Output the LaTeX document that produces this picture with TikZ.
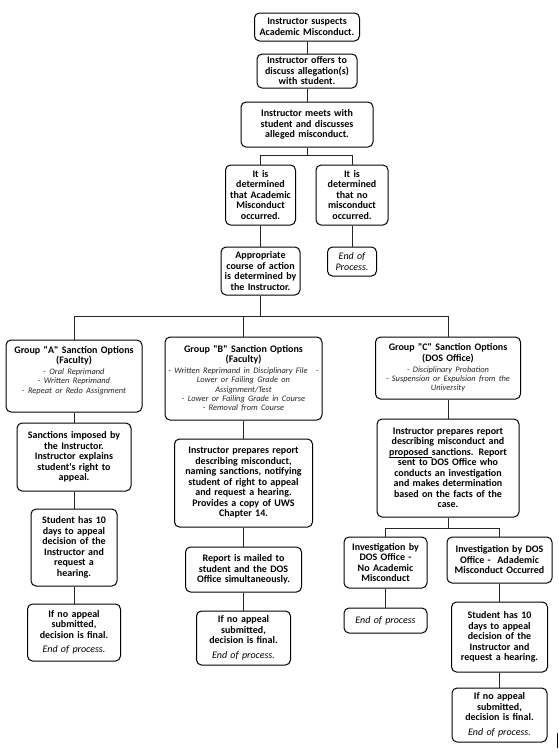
\documentclass[tikz,border=0pt]{standalone}
\usepackage{fontspec}
\setmainfont{Carlito}[Ligatures=TeXOff]
\newcommand{\optlines}[1]{\par\vspace{1.5pt}{\fontsize{8.4}{9.3}\selectfont\mdseries\itshape\color{black!85}#1\par}}
\newcommand{\eop}[1]{{\mdseries\itshape #1}}
\begin{document}
\begin{tikzpicture}[x=1pt,y=-1pt,
  box/.style={draw=black, line width=1pt, rounded corners=5pt, align=center,
    inner ysep=0pt, font=\fontsize{10}{10.5}\selectfont\bfseries, text=black},
  bw/.code={\pgfmathsetmacro\twid{#1+30}\tikzset{minimum width=#1pt, text width=\twid pt, inner xsep=-15pt}},
  conn/.style={draw=black!85, line width=0.8pt},
]
\useasboundingbox[fill=white] (0,0) rectangle (558,756);

% top chain
\node[box, bw=105, minimum height=28] (n1) at (307,27) {Instructor suspects\\Academic Misconduct.};
\node[box, bw=100, minimum height=34] (n2) at (307,71) {Instructor offers to\\discuss allegation(s)\\with student.};
\node[box, bw=132, minimum height=45] (n3) at (307,124.5) {Instructor meets with\\student and discusses\\alleged misconduct.};
\node[box, bw=70, minimum height=60] (n4) at (260.5,195) {It is\\determined\\that Academic\\Misconduct\\occurred.};
\node[box, bw=72, minimum height=60] (n5) at (352,195) {It is\\determined\\that no\\misconduct\\occurred.};
\node[box, bw=79, minimum height=48] (n6) at (260.5,271) {Appropriate\\course of action\\is determined by\\the Instructor.};
\node[box, bw=49, minimum height=29] (n7) at (352,261.5) {\eop{End of}\\\eop{Process.}};

% group boxes
\node[box, bw=136, minimum height=72] (gA) at (74,376) {Group "A" Sanction Options\\(Faculty)\optlines{- Oral Reprimand\\- Written Reprimand\\- Repeat or Redo Assignment}\vspace*{11pt}};
\node[box, bw=157, minimum height=83] (gB) at (243.5,378.5) {Group "B" Sanction Options\\(Faculty)\optlines{- Written Reprimand in Disciplinary File\quad -\\Lower or Failing Grade on\\Assignment/Test\\- Lower or Failing Grade in Course\\- Removal from Course}};
\node[box, bw=145, minimum height=62] (gC) at (448,368) {Group "C" Sanction Options\\(DOS Office)\optlines{- Disciplinary Probation\\- Suspension or Expulsion from the\\University}};

% group A chain
\node[box, bw=114, minimum height=68] (a1) at (74,457) {Sanctions imposed by\\the Instructor.\\Instructor explains\\student's right to\\appeal.};
\node[box, bw=86, minimum height=77] (a2) at (74,547.5) {Student has 10\\days to appeal\\decision of the\\Instructor and\\request a\\hearing.};
\node[box, bw=93, minimum height=57] (a3) at (74,632.5) {If no appeal\\submitted,\\decision is final.\\[4pt]\eop{End of process.}};

% group B chain
\node[box, bw=138, minimum height=88] (b1) at (243.5,483) {Instructor prepares report\\describing misconduct,\\naming sanctions, notifying\\student of right to appeal\\and request a hearing.\\Provides a copy of UWS\\Chapter 14.};
\node[box, bw=116, minimum height=45] (b2) at (243.5,569.5) {Report is mailed to\\student and the DOS\\Office simultaneously.};
\node[box, bw=94, minimum height=54] (b3) at (243.5,638) {If no appeal\\submitted,\\decision is final.\\[4pt]\eop{End of process.}};

% group C chain
\node[box, bw=142, minimum height=98] (c1) at (448,468) {Instructor prepares report\\describing misconduct and\\\underline{\smash{proposed}\ }sanctions. Report\\sent to DOS Office who\\conducts an investigation\\and makes determination\\based on the facts of the\\case.};
\node[box, bw=83, minimum height=51] (c2) at (385.5,562.5) {Investigation by\\DOS Office -\\No Academic\\Misconduct};
\node[box, bw=105, minimum height=46] (c3) at (499.5,560) {Investigation by DOS\\Office -\ \ Adademic\\Misconduct Occurred};
\node[box, bw=83, minimum height=25] (c4) at (385.5,620.5) {\eop{End of process}};
\node[box, bw=96, minimum height=70] (c5) at (499.5,637) {Student has 10\\days to appeal\\decision of the\\Instructor and\\request a hearing.};
\node[box, bw=95, minimum height=54] (c6) at (499.5,715) {If no appeal\\submitted,\\decision is final.\\[4pt]\eop{End of process.}};

% connectors
\draw[conn] (n1.south) -- (n2.north);
\draw[conn] (n2.south) -- (n3.north);
\draw[conn] (n3.south) -- (n3.south |- 0,155) coordinate (j1);
\draw[conn] (j1) -| (n4.north);
\draw[conn] (j1) -| (n5.north);
\draw[conn] (n4.south) -- (n6.north);
\draw[conn] (n5.south) -- (n7.north);
\draw[conn] (n6.south) -- (n6.south |- 0,316) coordinate (j2);
\draw[conn] (j2) -| (gA.north);
\draw[conn] (j2) -| (gB.north);
\draw[conn] (j2) -| (gC.north);
\draw[conn] (gA.south) -- (a1.north);
\draw[conn] (a1.south) -- (a2.north);
\draw[conn] (a2.south) -- (a3.north);
\draw[conn] (gB.south) -- (b1.north);
\draw[conn] (b1.south) -- (b2.north);
\draw[conn] (b2.south) -- (b3.north);
\draw[conn] (gC.south) -- (c1.north);
\draw[conn] (c1.south) -- (c1.south |- 0,528) coordinate (j3);
\draw[conn] (j3) -| (c2.north);
\draw[conn] (j3) -| (c3.north);
\draw[conn] (c2.south) -- (c4.north);
\draw[conn] (c3.south) -- (c5.north);
\draw[conn] (c5.south) -- (c6.north);

% edge mark
\coordinate (m1) at (557,733);
\coordinate (m2) at (557,748);
\draw[line width=0.8pt] (m1) -- (m2);
\end{tikzpicture}
\end{document}
